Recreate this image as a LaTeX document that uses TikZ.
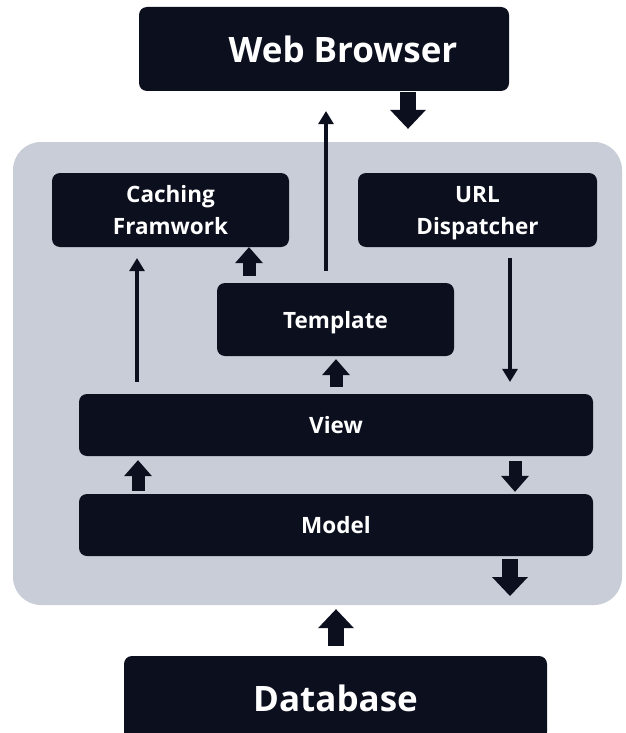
\documentclass[tikz,border=0pt]{standalone}
\usepackage{fontspec}
\setmainfont{Open Sans}
\usetikzlibrary{arrows.meta}
\definecolor{boxdark}{HTML}{0B0F1E}
\definecolor{panelgray}{HTML}{C8CDD7}
\begin{document}
\begin{tikzpicture}[x=1pt,y=-1pt,
  block/.style={rectangle, rounded corners=8pt, fill=boxdark, text=white,
    inner sep=0pt, text depth=0pt, align=center,
    font=\bfseries\fontsize{22.5}{32}\selectfont},
  bigblock/.style={block, font=\bfseries\fontsize{35}{42}\selectfont},
  panel/.style={rectangle, rounded corners=28pt, fill=panelgray, inner sep=0pt},
  bigarrow/.style={draw=boxdark, line width=16pt,
    -{Triangle[width=36pt,length=19pt,line width=0pt]}},
  midarrow/.style={draw=boxdark, line width=13pt,
    -{Triangle[width=28pt,length=16pt,line width=0pt]}},
  thinarrow/.style={draw=boxdark, line width=4pt,
    -{Triangle[width=16pt,length=13pt,line width=0pt]}},
]
% page frame
\path[use as bounding box, clip] (0,0) rectangle (625,733);
\fill[white] (0,0) rectangle (625,733);

% framework panel
\node[panel, minimum width=609pt, minimum height=463pt] (panel) at (317.5,373.5) {};

% outer blocks
\node[bigblock, minimum width=370pt, minimum height=84pt,
  label={[text=white, font=\bfseries\fontsize{35}{42}\selectfont, xshift=19pt]center:Web Browser}]
  (wb) at (324,49) {};
\node[bigblock, minimum width=423pt, minimum height=84pt] (db) at (335.5,698) {Database};

% inner blocks
\node[block, minimum width=237pt, minimum height=74pt] (cach) at (170.5,210) {Caching\\Framwork};
\node[block, minimum width=239pt, minimum height=74pt] (url) at (477.5,210) {URL\\Dispatcher};
\node[block, minimum width=237pt, minimum height=73pt] (tpl) at (335.5,319.5) {Template};
\node[block, minimum width=514pt, minimum height=62pt] (view) at (336,425) {View};
\node[block, minimum width=514pt, minimum height=62pt] (model) at (336,525) {Model};

\coordinate (out) at (510,596);

% request / response flow
\draw[bigarrow, shorten <=1pt, shorten >=13pt] (wb.south -| 408,0) -- (panel.north -| 408,0);
\draw[thinarrow, shorten <=12pt, shorten >=20pt] (tpl.north -| 326,0) -- (wb.south -| 326,0);
\draw[thinarrow, shorten <=12pt, shorten >=11pt] (view.north -| 137,0) -- (cach.south -| 137,0);
\draw[thinarrow, shorten <=11pt, shorten >=12pt] (url.south -| 510,0) -- (view.north -| 510,0);
\draw[midarrow, shorten <=7pt] (tpl.north -| 249,0) -- (cach.south -| 249,0);
\draw[midarrow, shorten <=7pt, shorten >=3pt] (view.north -| 336,0) -- (tpl.south -| 336,0);
\draw[midarrow, shorten <=3pt, shorten >=4pt] (model.north -| 138,0) -- (view.south -| 138,0);
\draw[midarrow, shorten <=5pt, shorten >=2pt] (view.south -| 515,0) -- (model.north -| 515,0);
\draw[bigarrow, shorten <=3pt] (model.south -| 510,0) -- (out);
\draw[bigarrow, shorten <=10pt, shorten >=4pt] (db.north -| 336,0) -- (panel.south -| 336,0);
\end{tikzpicture}
\end{document}
